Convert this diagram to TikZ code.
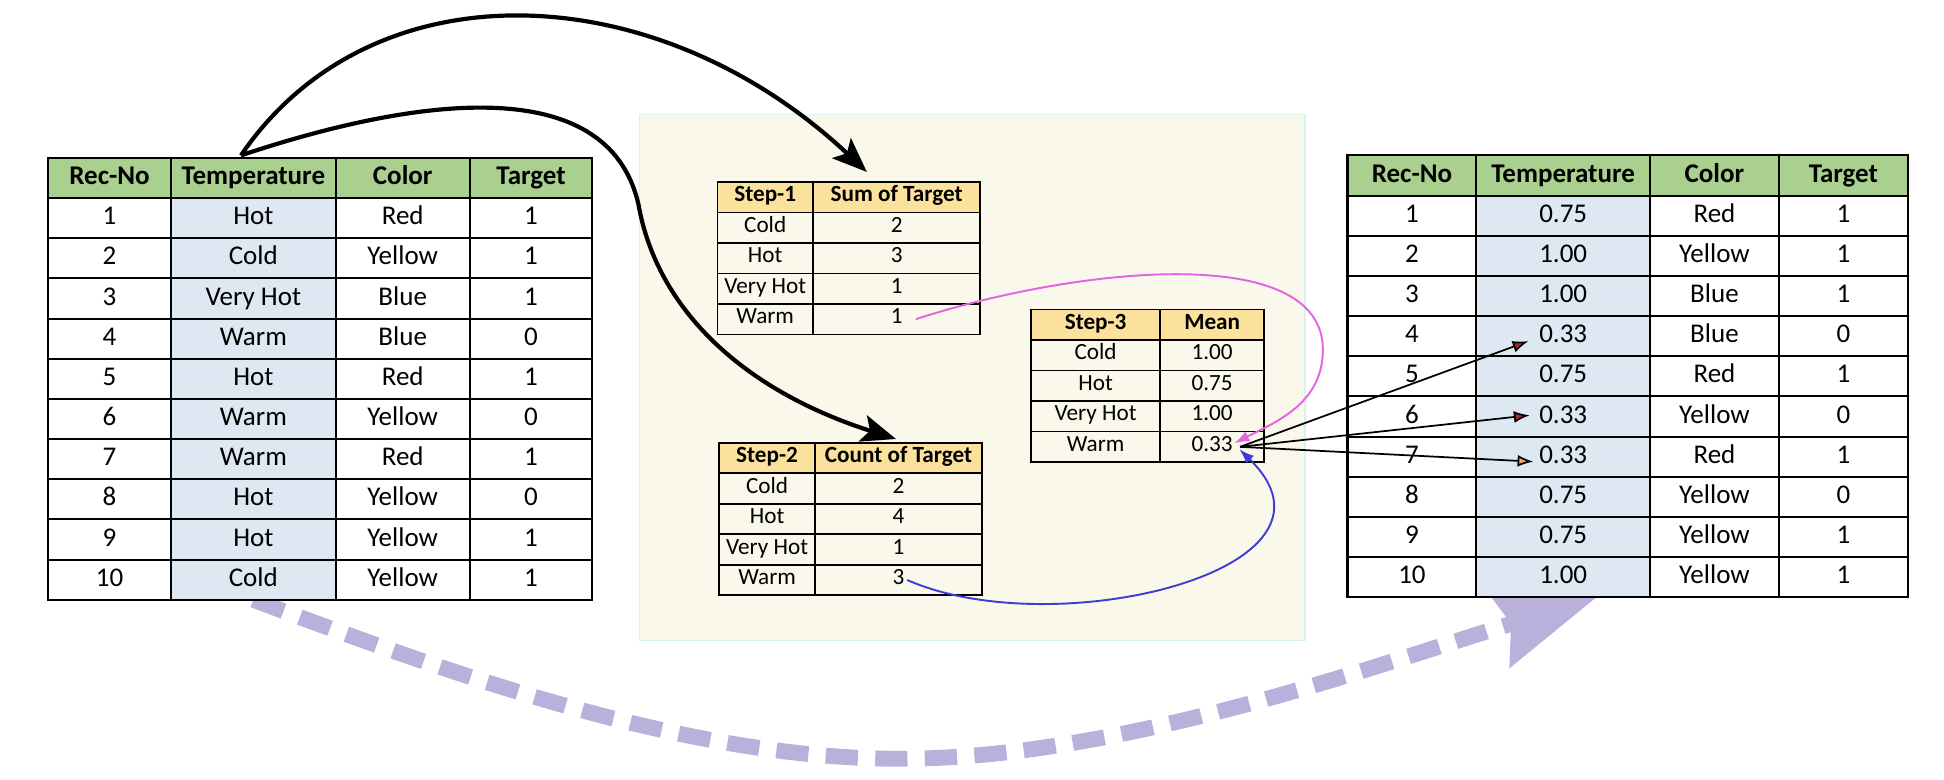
\documentclass[tikz,border=0pt]{standalone}
\usepackage{fontspec}
\setmainfont{Carlito}
\usepackage{tikz}
\usetikzlibrary{matrix, positioning, arrows.meta}
\usepackage{xcolor}
\definecolor{headgreen}{HTML}{A9D08E}
\definecolor{tempblue}{HTML}{DDE8F3}
\definecolor{stepgold}{HTML}{FBE29C}
\definecolor{panelbg}{HTML}{F9F8EB}
\definecolor{panelline}{HTML}{D8F3EC}
\definecolor{sumpink}{HTML}{E264E0}
\definecolor{countblue}{HTML}{3E3ED2}
\definecolor{lavender}{HTML}{B9B0DC}
\definecolor{tipred}{HTML}{A8282A}
\definecolor{tiporange}{HTML}{F2A766}
\pgfdeclarelayer{background}
\pgfsetlayers{background,main}

\begin{document}
\begin{tikzpicture}[x=0.25mm, y=-0.25mm,
cell/.style={rectangle,draw=black,line width=1.2pt,inner sep=0pt,outer sep=0pt},
bigtab/.style={
        matrix of nodes,row sep=-1.2pt,column sep=-1.2pt,inner sep=0pt,outer sep=0pt,
        nodes={cell,minimum height=8.1mm,text height=11.6pt,text depth=4pt,font=\fontsize{15.5pt}{18pt}\selectfont},
        row 1/.style={nodes={fill=headgreen,font=\fontsize{15.5pt}{18pt}\selectfont\bfseries}}
    },
steptab/.style={
        matrix of nodes,row sep=-1pt,column sep=-1pt,inner sep=0pt,outer sep=0pt,
        nodes={cell,line width=1pt,minimum height=6.15mm,text height=9.3pt,text depth=4pt,font=\fontsize{13.3pt}{15pt}\selectfont},
        row 1/.style={nodes={fill=stepgold,font=\fontsize{13.3pt}{15pt}\selectfont\bfseries}}
    },
flow/.style={line width=2.4pt,-{Stealth[length=7mm,width=5.5mm,inset=1.5mm]}},
sumflow/.style={sumpink,line width=1.1pt,-{Latex[length=3mm,width=2.2mm]}},
countflow/.style={countblue,line width=1.1pt,-{Latex[length=3mm,width=2.2mm]}},
lookup/.style={black,line width=1pt,-{Latex[length=3.2mm,width=2.4mm,fill=#1]}},
dashflow/.style={lavender,line width=3.2mm,dash pattern=on 6.5mm off 3.5mm,
    -{Stealth[length=21mm,width=17mm,inset=3mm,line width=0pt]}},
nodes in empty cells]

\useasboundingbox (0,0) rectangle (1568,629);

% original records
\matrix (data) [bigtab, anchor=north west,
    column 1/.style={nodes={minimum width=24.75mm}},
    column 2/.style={nodes={fill=tempblue,minimum width=33.25mm}},
    column 3/.style={nodes={minimum width=27mm}},
    column 4/.style={nodes={minimum width=24.75mm}}
] at (38,126.5) {
Rec-No & Temperature & Color & Target \\
1  & Hot      & Red    & 1 \\
2  & Cold     & Yellow & 1 \\
3  & Very Hot & Blue   & 1 \\
4  & Warm     & Blue   & 0 \\
5  & Hot      & Red    & 1 \\
6  & Warm     & Yellow & 0 \\
7  & Warm     & Red    & 1 \\
8  & Hot      & Yellow & 0 \\
9  & Hot      & Yellow & 1 \\
10 & Cold     & Yellow & 1 \\
};

% encoded records
\matrix (encoded) [bigtab, anchor=north west,
    column 1/.style={nodes={minimum width=26mm}},
    column 2/.style={nodes={fill=tempblue,minimum width=35mm}},
    column 3/.style={nodes={minimum width=26mm}},
    column 4/.style={nodes={minimum width=26mm}}
] at (1086,124.5) {
Rec-No & Temperature & Color & Target \\
1  & 0.75 & Red    & 1 \\
2  & 1.00 & Yellow & 1 \\
3  & 1.00 & Blue   & 1 \\
4  & 0.33 & Blue   & 0 \\
5  & 0.75 & Red    & 1 \\
6  & 0.33 & Yellow & 0 \\
7  & 0.33 & Red    & 1 \\
8  & 0.75 & Yellow & 0 \\
9  & 0.75 & Yellow & 1 \\
10 & 1.00 & Yellow & 1 \\
};

% the three steps
\matrix (sum) [steptab, anchor=north west,
    column 1/.style={nodes={minimum width=19.25mm}},
    column 2/.style={nodes={minimum width=33.75mm}}
] at (578,146) {
Step-1   & Sum of Target \\
Cold     & 2 \\
Hot      & 3 \\
Very Hot & 1 \\
Warm     & 1 \\
};

\matrix (count) [steptab, anchor=north west,
    column 1/.style={nodes={minimum width=19.25mm}},
    column 2/.style={nodes={minimum width=33.75mm}}
] at (579.5,356.4) {
Step-2   & Count of Target \\
Cold     & 2 \\
Hot      & 4 \\
Very Hot & 1 \\
Warm     & 3 \\
};

\matrix (mean) [steptab, anchor=north west,
    column 1/.style={nodes={minimum width=26mm}},
    column 2/.style={nodes={minimum width=21mm}}
] at (831,249) {
Step-3   & Mean \\
Cold     & 1.00 \\
Hot      & 0.75 \\
Very Hot & 1.00 \\
Warm     & 0.33 \\
};

\begin{pgfonlayer}{background}
\node (panel) [draw=panelline,fill=panelbg,line width=0.8pt,minimum width=134.25mm,minimum height=106mm,
    anchor=north west,inner sep=0pt] at (515,92) {};
\draw[dashflow] (data-11-2.south) .. controls (380,550) and (560,612) .. (726,612)
    .. controls (900,612) and (1100,540) .. ([xshift=19]encoded-11-2.south);
\end{pgfonlayer}

% arrows
\draw[flow] ([shift={(-10,-2)}]data-1-2.north) .. controls (300,-30) and (530,-20) .. ([shift={(-24,-8)}]sum-1-2.north);
\draw[flow] ([shift={(-10,-2)}]data-1-2.north) .. controls (330,80) and (490,55) .. (515,165)
    .. controls (530,250) and (600,315) .. ([shift={(-2,-3)}]count-1-2.north);

\draw[sumflow] ([xshift=11]sum-5-2.center) .. controls (870,215) and (1067,195) .. (1067,282)
    .. controls (1067,325) and (1030,340) .. ([shift={(18,-3)}]mean-5-2.center);
\draw[countflow] ([xshift=5]count-5-2.center) .. controls (850,520) and (1100,460) .. ([shift={(22,2)}]mean-5-2.center);

\draw[lookup=tipred] ([xshift=16]mean-5-2.center) -- ([shift={(-28,4)}]encoded-5-2.center);
\draw[lookup=tipred] ([xshift=16]mean-5-2.center) -- ([shift={(-27,-1)}]encoded-7-2.center);
\draw[lookup=tiporange] ([xshift=16]mean-5-2.center) -- ([shift={(-24,4)}]encoded-8-2.center);

\end{tikzpicture}
\end{document}
